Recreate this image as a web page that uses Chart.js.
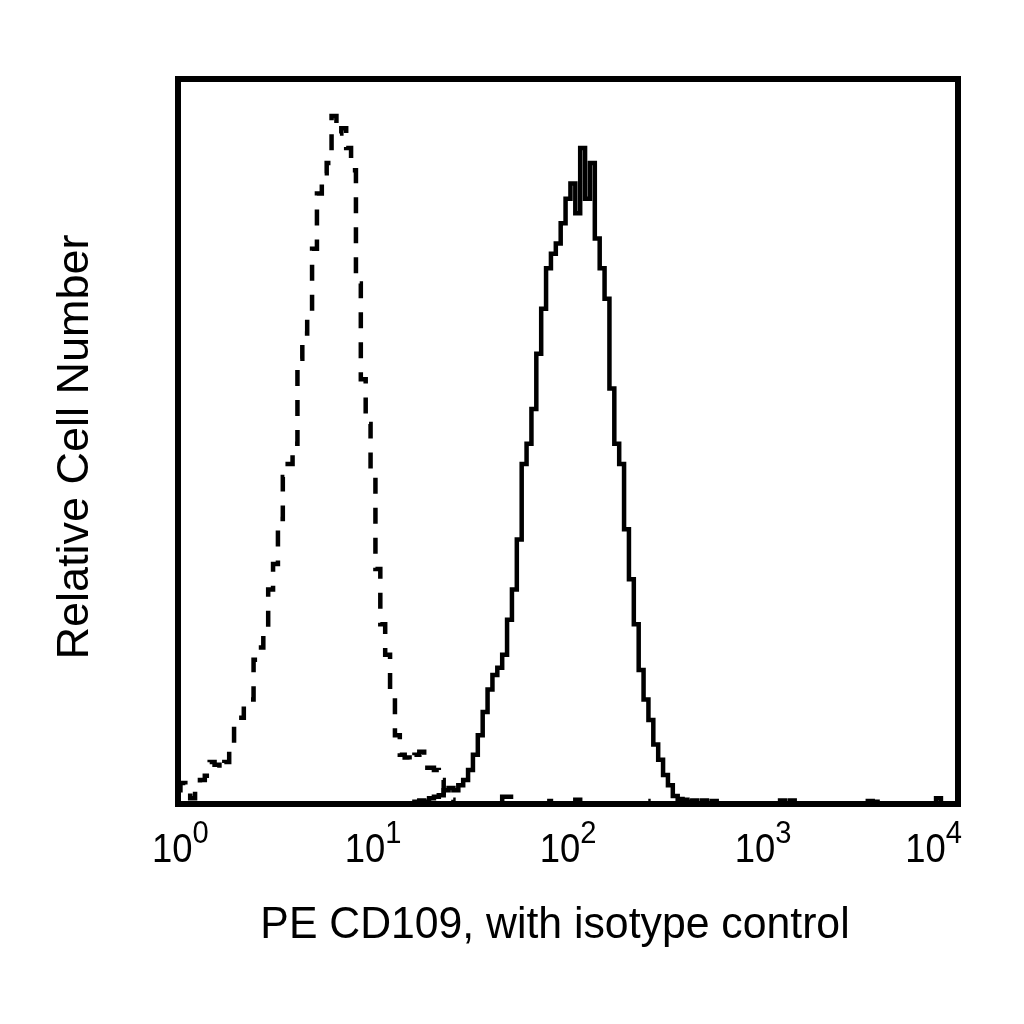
<!DOCTYPE html>
<html>
<head>
<meta charset="utf-8">
<title>PE CD109</title>
<script src="https://cdn.jsdelivr.net/npm/chart.js@4.4.1/dist/chart.umd.min.js"></script>
<style>
    html, body { margin: 0; padding: 0; background: #ffffff; }
    canvas { display: block; }
</style>
</head>
<body>
<canvas id="histogram" width="1024" height="1024"></canvas>
<script>
// Histogram channels: 40 channels per decade, channel 0 = 10^0
const CHANNELS_PER_DECADE = 40;

// Isotype control (dashed)
const isotypeCounts = [
    1.9, 2.9, 1.9, 0.8, 1.7, 3.3, 3.9, 5.8, 5.4, 4.7,
    5.8, 8.2, 11.3, 11.9, 13.7, 14.4, 19.9, 21.6, 24.1, 29.6,
    33.1, 39.3, 45.1, 46.9, 49.7, 61.4, 64.9, 66.9, 76.6, 84.2,
    87.0, 88.4, 94.9, 92.5, 93.2, 90.5, 87.4, 71.8, 58.6, 52.4,
    46.2, 32.4, 24.8, 20.6, 15.8, 9.5, 6.8, 6.4, 5.8, 6.8,
    7.2, 5.0, 5.0, 4.7, 3.3, 0.8, 0.6, 0.1, 0, 0,
    0.3, 0, 0, 0, 0, 0, 0, 1.0, 1.0, 1.0,
    1.0, 0, 0, 0, 0, 0, 0.4, 0, 0, 0,
    0, 0, 0.6, 0, 0, 0, 0, 0, 0, 0.3,
    0, 0, 0, 0, 0, 0, 0.4, 0, 0, 0,
    0, 0, 0, 0, 0, 0, 0, 0, 0.3, 0,
    0, 0, 0, 0, 0, 0, 0, 0, 0, 0,
    0, 0, 0, 0.5, 0, 0, 0, 0, 0, 0,
    0, 0, 0, 0, 0, 0, 0, 0, 0, 0,
    0, 0, 0, 0.3, 0, 0, 0, 0, 0, 0,
    0, 0, 0, 0, 0, 0, 0, 0, 0, 0, 0
];

// PE CD109 stained (solid)
const cd109Counts = [
    0, 0, 0, 0, 0, 0, 0, 0, 0, 0,
    0, 0, 0, 0, 0, 0, 0, 0, 0, 0,
    0, 0, 0, 0, 0, 0, 0, 0, 0, 0,
    0, 0, 0, 0, 0, 0, 0, 0, 0, 0,
    0, 0, 0, 0, 0, 0, 0, 0, 0, 0.3,
    0.5, 0.3, 0.8, 1.0, 1.2, 1.9, 2.2, 1.9, 2.6, 3.3,
    4.7, 6.8, 9.5, 12.7, 15.8, 17.8, 18.8, 20.6, 25.4, 29.6,
    36.5, 46.9, 49.7, 54.5, 62.1, 68.3, 73.9, 75.9, 77.3, 80.1,
    83.5, 85.6, 81.5, 90.5, 83.5, 88.4, 78.0, 73.9, 69.7, 57.3,
    49.7, 46.9, 37.9, 31.0, 24.8, 18.5, 14.4, 11.6, 8.2, 6.1,
    4.0, 2.6, 1.1, 0.7, 0.6, 0.3, 0.5, 0, 0.5, 0,
    0.4, 0, 0, 0, 0, 0, 0, 0, 0, 0,
    0, 0, 0, 0, 0.5, 0, 0.5, 0, 0, 0,
    0, 0, 0, 0, 0, 0, 0, 0, 0, 0,
    0, 0, 0.4, 0, 0, 0, 0, 0, 0, 0,
    0, 0, 0, 0, 0, 0, 0.8, 0, 0, 0, 0
];

// Decade tick labels: base and exponent
const tickExponents = ['0', '1', '2', '3', '4'];
const tickValues = [1, 10, 100, 1000, 10000];

const xTitle = 'PE CD109, with isotype control';
const yTitle = 'Relative Cell Number';

function toPoints(counts) {
    return counts.map((v, i) => ({ x: Math.pow(10, i / CHANNELS_PER_DECADE), y: v }));
}

// Frame, decade labels and axis titles
const histogramDecorations = {
    id: 'histogramDecorations',
    afterDraw(chart) {
        const ctx = chart.ctx;
        const area = chart.chartArea;
        const xScale = chart.scales.x;

        ctx.save();
        ctx.strokeStyle = '#000000';
        ctx.lineWidth = 6;
        ctx.strokeRect(area.left, area.top, area.right - area.left, area.bottom - area.top);

        ctx.fillStyle = '#000000';
        ctx.textBaseline = 'alphabetic';
        ctx.textAlign = 'left';
        // labels in the original are slightly condensed
        const squeeze = 0.91;
        const baseFont = '40px "Liberation Sans", Arial, sans-serif';
        const expFont = '32px "Liberation Sans", Arial, sans-serif';
        tickValues.forEach((value, i) => {
            const px = xScale.getPixelForValue(value);
            ctx.font = baseFont;
            const wBase = ctx.measureText('10').width * squeeze;
            ctx.font = expFont;
            const wExp = ctx.measureText(tickExponents[i]).width * squeeze;
            let left = px - (wBase + wExp) / 2;
            left = Math.max(left, 152);
            left = Math.min(left, 962 - wBase - wExp);
            ctx.save();
            ctx.translate(left, 0);
            ctx.scale(squeeze, 1);
            ctx.font = baseFont;
            ctx.fillText('10', 0, 862);
            ctx.font = expFont;
            ctx.fillText(tickExponents[i], wBase / squeeze, 843);
            ctx.restore();
        });

        // x axis title
        ctx.save();
        ctx.translate(555, 938);
        ctx.scale(0.95, 1);
        ctx.font = '45px "Liberation Sans", Arial, sans-serif';
        ctx.textAlign = 'center';
        ctx.fillText(xTitle, 0, 0);
        ctx.restore();

        // y axis title
        ctx.translate(88, 447);
        ctx.rotate(-Math.PI / 2);
        ctx.font = '45px "Liberation Sans", Arial, sans-serif';
        ctx.textAlign = 'center';
        ctx.fillText(yTitle, 0, 0);
        ctx.restore();
    }
};

function createHistogramChart(containerId) {
    const ctx = document.getElementById(containerId).getContext('2d');
    new Chart(ctx, {
        type: 'line',
        data: {
            datasets: [{
                label: 'Isotype control',
                data: toPoints(isotypeCounts),
                borderColor: '#000000',
                borderWidth: 4.5,
                borderDash: [16, 14],
                stepped: 'middle',
                pointRadius: 0,
                fill: false
            }, {
                label: 'PE CD109',
                data: toPoints(cd109Counts),
                borderColor: '#000000',
                borderWidth: 4.5,
                stepped: 'middle',
                pointRadius: 0,
                fill: false
            }]
        },
        options: {
            responsive: false,
            devicePixelRatio: 1,
            animation: false,
            layout: {
                padding: { left: 178, top: 79, right: 66, bottom: 220 }
            },
            plugins: {
                legend: { display: false },
                tooltip: { enabled: false }
            },
            scales: {
                x: {
                    type: 'logarithmic',
                    min: 1,
                    max: 10000,
                    display: false
                },
                y: {
                    type: 'linear',
                    min: 0,
                    max: 100,
                    display: false
                }
            }
        },
        plugins: [histogramDecorations]
    });
}

createHistogramChart('histogram');
</script>
</body>
</html>
